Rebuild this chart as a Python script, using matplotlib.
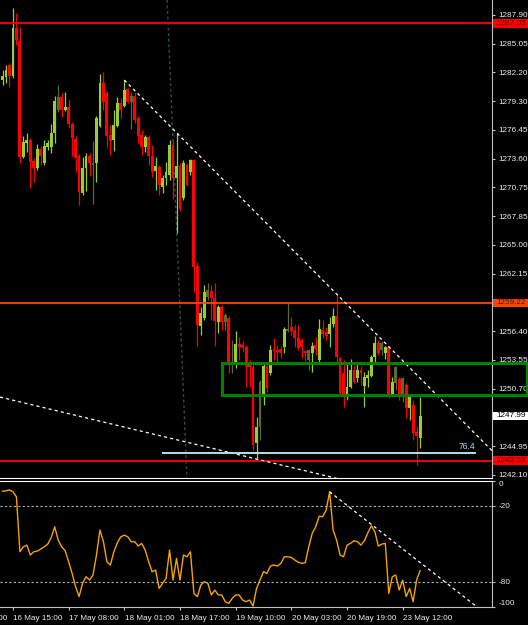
import matplotlib
matplotlib.use("Agg")
import matplotlib.pyplot as plt
from matplotlib.patches import Rectangle
from matplotlib.transforms import blended_transform_factory
import numpy as np

plt.rcParams['font.family'] = ['Liberation Sans', 'DejaVu Sans']

# ---- datos (velas H1) ----
opens = [
    1281.42, 1281.72, 1282.92, 1281.82, 1286.60, 1285.31, 1273.75, 1275.15, 1275.45, 1273.36,
    1272.66, 1274.55, 1273.16, 1274.75, 1274.75, 1276.14, 1278.44, 1279.73, 1278.44, 1278.74,
    1277.04, 1275.55, 1273.85, 1270.17, 1272.66, 1273.85, 1272.96, 1273.16, 1276.84, 1281.12,
    1280.13, 1275.95, 1275.45, 1276.84, 1279.13, 1278.83, 1280.53, 1279.23, 1279.83, 1277.64,
    1275.95, 1274.75, 1275.75, 1273.85, 1272.36, 1272.76, 1270.77, 1271.66, 1271.96, 1274.95,
    1271.66, 1272.86, 1269.67, 1272.96, 1272.26, 1273.46, 1262.90, 1256.92, 1257.72, 1259.81,
    1260.41, 1259.71, 1257.32, 1258.82, 1257.32, 1257.72, 1253.04, 1253.34, 1255.13, 1255.03,
    1254.83, 1253.04, 1252.84, 1245.27, 1246.86, 1249.85, 1252.94, 1252.24, 1254.63, 1254.53,
    1254.63, 1254.83, 1256.43, 1256.82, 1256.53, 1255.73, 1255.53, 1254.43, 1253.54, 1254.23,
    1255.03, 1253.54, 1256.53, 1256.33, 1256.13, 1257.12, 1257.92, 1253.74, 1252.24, 1250.05,
    1250.85, 1252.54, 1251.74, 1252.54, 1250.95, 1251.74, 1251.94, 1253.84, 1255.23, 1254.53,
    1254.23, 1254.83, 1250.15, 1251.24, 1251.64, 1250.15, 1251.05, 1248.76, 1249.05, 1246.37,
    1245.77]
closes = [
    1281.82, 1282.42, 1281.82, 1286.60, 1285.41, 1273.75, 1275.25, 1275.45, 1273.26, 1272.66,
    1274.55, 1273.85, 1274.85, 1275.15, 1276.14, 1279.33, 1279.73, 1278.44, 1278.74, 1277.04,
    1275.65, 1273.65, 1270.27, 1272.66, 1273.85, 1273.16, 1273.16, 1277.64, 1281.12, 1279.23,
    1275.85, 1275.35, 1276.94, 1279.13, 1278.44, 1280.43, 1279.23, 1279.83, 1277.44, 1275.85,
    1274.75, 1275.75, 1273.85, 1272.26, 1272.86, 1270.97, 1271.66, 1272.26, 1274.95, 1271.66,
    1272.86, 1268.58, 1273.16, 1270.97, 1273.46, 1262.80, 1257.02, 1258.22, 1260.31, 1260.51,
    1259.71, 1257.42, 1258.82, 1257.32, 1258.02, 1253.34, 1253.34, 1255.13, 1254.83, 1254.73,
    1252.84, 1252.84, 1245.07, 1246.86, 1251.34, 1252.94, 1250.75, 1254.53, 1254.43, 1254.33,
    1254.23, 1256.62, 1256.62, 1256.43, 1255.73, 1254.73, 1254.83, 1254.23, 1254.53, 1254.93,
    1254.63, 1256.62, 1256.13, 1255.93, 1257.12, 1257.92, 1253.84, 1250.25, 1249.85, 1250.85,
    1252.54, 1251.34, 1252.54, 1252.24, 1251.84, 1252.04, 1253.84, 1255.23, 1254.23, 1255.23,
    1254.83, 1249.85, 1251.34, 1252.84, 1250.15, 1251.74, 1248.76, 1249.85, 1246.27, 1245.97,
    1247.99]
highs = [
    1282.42, 1282.92, 1283.12, 1288.60, 1288.10, 1286.70, 1275.85, 1276.14, 1275.65, 1273.65,
    1275.05, 1274.85, 1275.45, 1275.45, 1277.04, 1279.83, 1280.93, 1280.13, 1280.23, 1279.53,
    1277.24, 1275.85, 1274.05, 1273.75, 1274.15, 1274.15, 1275.35, 1277.84, 1282.02, 1282.22,
    1280.33, 1276.94, 1278.44, 1279.73, 1279.63, 1281.42, 1280.63, 1280.23, 1280.23, 1277.84,
    1276.44, 1275.95, 1275.95, 1274.95, 1273.75, 1272.96, 1271.96, 1273.26, 1275.45, 1275.45,
    1276.14, 1273.16, 1273.46, 1273.16, 1273.56, 1273.56, 1263.30, 1258.82, 1261.01, 1261.21,
    1261.01, 1261.21, 1259.02, 1259.02, 1258.22, 1257.92, 1255.53, 1256.43, 1255.83, 1255.43,
    1255.03, 1253.54, 1253.04, 1247.86, 1251.54, 1253.24, 1253.14, 1255.03, 1255.73, 1255.03,
    1254.93, 1256.82, 1259.21, 1257.82, 1257.02, 1257.02, 1255.73, 1254.53, 1254.63, 1255.33,
    1255.83, 1257.62, 1257.52, 1256.82, 1257.82, 1258.72, 1260.11, 1253.84, 1253.54, 1253.34,
    1253.64, 1253.04, 1253.34, 1252.94, 1252.34, 1252.54, 1254.03, 1255.93, 1255.53, 1255.43,
    1254.93, 1254.93, 1251.84, 1252.94, 1251.84, 1251.84, 1251.24, 1250.05, 1249.55, 1246.96,
    1249.85]
lows = [
    1280.93, 1281.12, 1280.73, 1281.62, 1284.91, 1273.15, 1273.65, 1274.25, 1270.67, 1271.27,
    1272.46, 1272.96, 1272.96, 1274.45, 1274.15, 1275.15, 1278.24, 1277.74, 1278.34, 1276.64,
    1273.85, 1272.26, 1268.97, 1269.97, 1270.37, 1271.86, 1269.07, 1271.27, 1276.74, 1278.44,
    1274.65, 1273.95, 1274.35, 1276.74, 1277.64, 1278.74, 1279.13, 1276.54, 1277.14, 1275.15,
    1273.95, 1274.25, 1272.96, 1271.76, 1270.47, 1269.97, 1270.17, 1270.97, 1271.46, 1269.57,
    1266.19, 1268.38, 1269.47, 1270.87, 1271.96, 1260.31, 1254.93, 1256.03, 1257.52, 1259.51,
    1257.52, 1254.93, 1256.23, 1256.53, 1256.53, 1252.24, 1252.24, 1252.74, 1253.54, 1254.33,
    1250.85, 1250.85, 1244.57, 1243.68, 1245.57, 1249.05, 1250.35, 1252.04, 1253.54, 1253.34,
    1253.74, 1254.23, 1256.33, 1256.03, 1254.83, 1254.53, 1253.74, 1253.44, 1252.54, 1252.34,
    1254.03, 1253.34, 1255.73, 1255.53, 1254.83, 1256.82, 1253.04, 1250.05, 1248.86, 1249.55,
    1250.75, 1251.24, 1251.34, 1251.05, 1248.86, 1250.85, 1251.84, 1253.34, 1254.03, 1254.03,
    1253.64, 1249.75, 1250.05, 1250.55, 1249.55, 1249.35, 1247.76, 1247.56, 1245.57, 1243.08,
    1244.77]
dim_bars = [16, 26, 37, 59, 64, 66, 74, 82, 88, 109, 113, 115]   # velas oscuras

# Williams %R (ventana inferior)
wpr = [
    -8.4, -8.2, -7.4, -8.9, -12.9, -56.3, -52.4, -51.1, -58.9, -56.3,
    -55.8, -54.2, -52.4, -50.3, -45.0, -36.6, -47.1, -52.4, -55.5, -64.2,
    -73.4, -83.9, -91.8, -81.3, -76.1, -78.7, -74.7, -58.9, -39.2, -48.4,
    -64.2, -66.8, -56.3, -49.2, -44.5, -43.2, -44.5, -48.4, -48.4, -51.8,
    -49.7, -55.0, -64.2, -72.1, -70.8, -85.3, -81.3, -77.4, -55.0, -78.7,
    -61.6, -78.7, -58.9, -60.3, -56.3, -89.2, -91.8, -82.6, -80.0, -81.3,
    -90.5, -86.6, -90.5, -90.5, -95.8, -97.1, -93.2, -90.5, -90.5, -94.5,
    -95.8, -94.5, -99.2, -85.3, -78.7, -72.1, -73.4, -67.6, -66.8, -67.6,
    -65.5, -60.3, -60.3, -60.8, -62.9, -64.7, -65.5, -65.0, -52.4, -41.8,
    -36.6, -28.2, -28.7, -23.4, -8.9, -39.2, -47.1, -58.9, -60.3, -51.1,
    -49.7, -47.6, -48.4, -51.1, -47.6, -41.3, -35.8, -40.5, -51.8, -50.3,
    -49.7, -89.2, -76.1, -74.7, -86.6, -78.7, -91.8, -85.3, -95.8, -78.7,
    -71.3]

# etiquetas de tiempo (cada 16 velas)
tick_bars = [-13, 3, 19, 35, 51, 67, 83, 99, 115]
tick_labels = ['13 May 22:00', '16 May 15:00', '17 May 08:00', '18 May 01:00', '18 May 17:00',
               '19 May 10:00', '20 May 03:00', '20 May 19:00', '23 May 12:00']

price_ticks = [1287.90, 1285.05, 1282.20, 1279.30, 1276.45, 1273.60, 1270.75, 1267.85,
               1265.00, 1262.15, 1256.40, 1253.55, 1250.70, 1244.95, 1242.10]

# objetos dibujados (lineas horizontales, tendencias, zona)
hlines = [(1287.05, '#FF0000'), (1259.22, '#FF4500'), (1243.53, '#FF0000')]
bid = 1247.99
trend_hi = [(35, 1281.42), (96, 1260.11)]
trend_lo = [(0, 1249.79), (73, 1243.68)]
fib_level = 1244.27
zone = (63.1, 1250.05, 1253.24)
wpr_trend = [(94, -8.9), (136, -99.2)]

BG = 'black'
FG = '#EDEDED'
SPINE = '#C0C0C0'
BULL = '#9ACD32'
BEAR = '#FF0000'
DIM = '#556B2F'
FS = 5.9

fig = plt.figure(figsize=(5.28, 6.25), dpi=100, facecolor=BG)
ax = fig.add_axes([0, 147 / 625, 492 / 528, 478 / 625], facecolor=BG)
ax2 = fig.add_axes([0, 18 / 625, 492 / 528, 126.5 / 625], facecolor=BG)

n = len(closes)
x = np.arange(n)
o = np.array(opens)
c = np.array(closes)
h = np.array(highs)
l = np.array(lows)

cols = []
for i in range(n):
    if i in dim_bars:
        cols.append(DIM)
    elif c[i] >= o[i]:
        cols.append(BULL)
    else:
        cols.append(BEAR)

xlim = (-0.72, 140.66)
ax.vlines(x, l, h, colors=cols, lw=0.9)
body = np.maximum(np.abs(c - o), 0.1)
ax.bar(x, body, bottom=np.minimum(o, c), width=0.82, color=cols, linewidth=0)

ax.set_xlim(*xlim)
ax.set_ylim(1241.79, 1289.39)

# lineas horizontales
for p, col in hlines:
    ax.axhline(p, color=col, lw=1.3, zorder=3)

# tendencias (rayos)
def ray(axis, pts, **kw):
    (x0, y0), (x1, y1) = pts
    m = (y1 - y0) / (x1 - x0)
    xs = np.array([xlim[0] if x0 == 0 else x0, xlim[1]])
    axis.plot(xs, y0 + m * (xs - x0), **kw)

ray(ax, trend_hi, color='white', lw=0.9, ls=(0, (2.5, 2.5)), zorder=4)
ray(ax, trend_lo, color='white', lw=0.9, ls=(0, (2.5, 2.5)), zorder=4)

# linea punteada vertical inclinada
ax.plot([47.3, 53.0], [1289.39, 1241.79], color='#2F4F4F', lw=1, ls=(0, (2, 2)), zorder=1)

# nivel fibo 76.4
ax.hlines(fib_level, 45.8, 136.1, color='#B0E0E6', lw=1.4, zorder=4)
ax.text(135.9, fib_level + 0.25, '76.4', color='#B0E0E6', fontsize=6.2, ha='right', va='bottom')

# zona verde
ax.add_patch(Rectangle((zone[0], zone[1]), 150.7 - zone[0], zone[2] - zone[1], fill=False,
                       edgecolor='#008000', lw=2.2, clip_on=False, zorder=6))

# ejes del panel principal
for s in ['top', 'left']:
    ax.spines[s].set_visible(False)
ax.spines['right'].set_color(SPINE)
ax.spines['bottom'].set_color('white')
ax.yaxis.tick_right()
ax.set_yticks(price_ticks)
ax.set_yticklabels(['%.2f' % v for v in price_ticks])
ax.tick_params(axis='y', colors=SPINE, labelcolor=FG, labelsize=FS, length=2, pad=2.5, width=0.8)
ax.set_xticks([])

# etiquetas de precio con fondo
tr = blended_transform_factory(ax.transAxes, ax.transData)
def price_tag(p, face, tcol):
    ax.add_patch(Rectangle((1.002, p - 0.42), 36 / 492, 0.84, transform=tr, facecolor=face,
                           edgecolor='none', clip_on=False, zorder=7))
    ax.text(1.0 + 4 / 492, p, '%.2f' % p, transform=tr, color=tcol, fontsize=FS,
            va='center', ha='left', zorder=8)

price_tag(hlines[0][0], hlines[0][1], '#5A0000')
price_tag(hlines[1][0], hlines[1][1], '#4A1500')
price_tag(bid, 'white', 'black')
price_tag(hlines[2][0], hlines[2][1], '#5A0000')

# ---- ventana del oscilador ----
ax2.plot(x, wpr, color='#F5A300', lw=1.0)
ax2.axhline(-20, color='#B0B0B0', lw=0.8, ls=(0, (2, 2)))
ax2.axhline(-80, color='#B0B0B0', lw=0.8, ls=(0, (2, 2)))
ray(ax2, wpr_trend, color='white', lw=0.9, ls=(0, (2.5, 2.5)))
ax2.set_xlim(*xlim)
ax2.set_ylim(-100, 0)

ax2.spines['left'].set_visible(False)
ax2.spines['top'].set_color('white')
ax2.spines['right'].set_color(SPINE)
ax2.spines['bottom'].set_color(SPINE)
ax2.yaxis.tick_right()
ax2.set_yticks([0, -20, -80, -100])
ax2.set_yticklabels(['0', '-20', '-80', '-100'])
ax2.tick_params(axis='y', colors=SPINE, labelcolor=FG, labelsize=FS, length=2, pad=2.5, width=0.8)
labs = ax2.get_yticklabels()
labs[0].set_va('top')
labs[-1].set_va('bottom')

ax2.set_xticks(tick_bars[1:])
ax2.set_xticklabels([])
ax2.tick_params(axis='x', colors=SPINE, length=2.5, width=0.8)
for k, lab in zip(tick_bars, tick_labels):
    ax2.annotate(lab, xy=(k, 0), xycoords=('data', 'axes fraction'), xytext=(0.3, -9.6),
                 textcoords='offset points', color=FG, fontsize=FS, ha='left', va='baseline',
                 annotation_clip=False)

fig.savefig('out.png', dpi=100, facecolor=BG)
